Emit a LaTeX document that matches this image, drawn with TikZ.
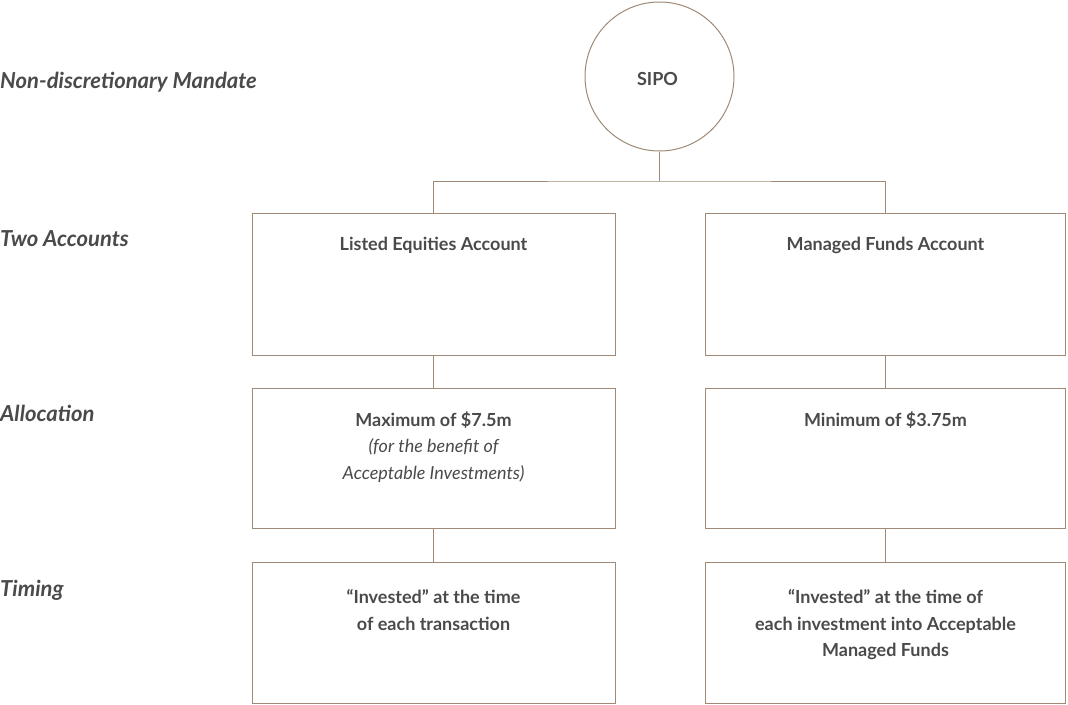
\documentclass[tikz,border=0pt]{standalone}
\usepackage{fontspec}
\setmainfont{Lato}
\definecolor{linec}{HTML}{9E8A76}
\definecolor{txt}{HTML}{4A4A4A}
\tikzset{
  box/.style={draw=linec, line width=1pt, inner sep=0pt},
  boxtext/.style={text=txt, font=\fontsize{18}{26.5}\selectfont\bfseries, align=center, anchor=north},
  lbl/.style={text=txt, font=\fontsize{22}{26}\selectfont\bfseries\itshape, anchor=base west, inner sep=0pt},
  conn/.style={draw=linec, line width=1pt}
}
\begin{document}
\begin{tikzpicture}[x=1pt,y=-1pt]
\useasboundingbox (0,0) rectangle (1068,704);
% circle
\node[circle, draw=linec, line width=1pt, minimum size=149pt, inner sep=0pt] (sipo) at (659.5,76.5) {};
\node[text=txt, font=\fontsize{18}{20}\selectfont\bfseries, anchor=base, inner sep=0pt] (sipot) at (657.5,85) {SIPO};
% boxes
\node[box, minimum width=363pt, minimum height=142pt] (le) at (433.5,284) {};
\node[box, minimum width=360pt, minimum height=142pt] (mf) at (885.5,284) {};
\node[box, minimum width=363pt, minimum height=140pt] (la) at (433.5,458) {};
\node[box, minimum width=360pt, minimum height=140pt] (ma) at (885.5,458) {};
\node[box, minimum width=363pt, minimum height=141pt] (lt) at (433.5,632.5) {};
\node[box, minimum width=360pt, minimum height=141pt] (mt) at (885.5,632.5) {};
% texts
\node[boxtext] (let) at (433.5,234) {Listed Equities Account};
\node[boxtext] (mft) at (885.5,234) {Managed Funds Account};
\node[boxtext] (lat) at (433.5,408) {Maximum of \$7.5m\\\mdseries\itshape (for the benefit of\\\mdseries\itshape Acceptable Investments)};
\node[boxtext] (mat) at (885.5,408) {Minimum of \$3.75m};
\node[boxtext] (ltt) at (433.5,586) {“Invested” at the time\\of each transaction};
\node[boxtext] (mtt) at (885.5,586) {“Invested” at the time of\\each investment into Acceptable\\Managed Funds};
% labels
\node[lbl] (l1) at (0,88) {Non-discretionary Mandate};
\node[lbl] (l2) at (0,246) {Two Accounts};
\node[lbl] (l3) at (0,421) {Allocation};
\node[lbl] (l4) at (0,596) {Timing};
% connectors
\coordinate (hj) at (659.5,181);
\draw[conn] (sipo.south) -- (hj);
\draw[conn] (le.north) |- (hj) -| (mf.north);
\draw[conn] (le.south) -- (la.north);
\draw[conn] (mf.south) -- (ma.north);
\draw[conn] (la.south) -- (lt.north);
\draw[conn] (ma.south) -- (mt.north);
\end{tikzpicture}
\end{document}
